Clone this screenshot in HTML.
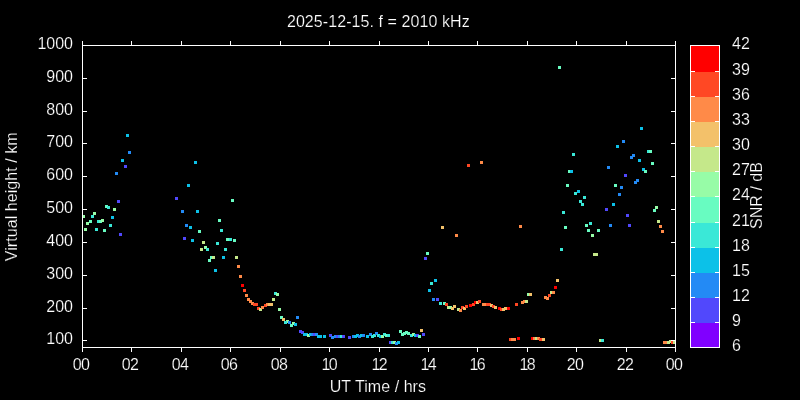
<!DOCTYPE html>
<html><head><meta charset="utf-8"><title>2025-12-15. f = 2010 kHz</title>
<style>html,body{margin:0;padding:0;background:#000;overflow:hidden}svg{display:block}text{font-family:"Liberation Sans",sans-serif;font-size:16px;fill:#fff;stroke:#000;stroke-width:0.2px}</style></head><body>
<svg width="800" height="400" viewBox="0 0 800 400">
<rect width="800" height="400" fill="#000"/>
<g shape-rendering="crispEdges">
<rect x="126" y="134" width="3" height="3" fill="#0cc1e8"/>
<rect x="128" y="151" width="3" height="3" fill="#238af5"/>
<rect x="121" y="159" width="3" height="3" fill="#0cc1e8"/>
<rect x="124" y="165" width="3" height="3" fill="#5148fc"/>
<rect x="115" y="172" width="3" height="3" fill="#238af5"/>
<rect x="175" y="197" width="3" height="3" fill="#5148fc"/>
<rect x="117" y="200" width="3" height="3" fill="#5148fc"/>
<rect x="105" y="205" width="3" height="3" fill="#68fcc1"/>
<rect x="107" y="206" width="3" height="3" fill="#3ae8d7"/>
<rect x="113" y="208" width="3" height="3" fill="#97fca7"/>
<rect x="93" y="212" width="3" height="3" fill="#97fca7"/>
<rect x="82" y="215" width="3" height="3" fill="#97fca7"/>
<rect x="91" y="215" width="3" height="3" fill="#3ae8d7"/>
<rect x="111" y="216" width="3" height="3" fill="#0cc1e8"/>
<rect x="89" y="220" width="3" height="3" fill="#68fcc1"/>
<rect x="97" y="220" width="3" height="3" fill="#3ae8d7"/>
<rect x="99" y="220" width="3" height="3" fill="#68fcc1"/>
<rect x="101" y="219" width="3" height="3" fill="#97fca7"/>
<rect x="86" y="222" width="3" height="3" fill="#97fca7"/>
<rect x="109" y="224" width="3" height="3" fill="#3ae8d7"/>
<rect x="84" y="228" width="3" height="3" fill="#97fca7"/>
<rect x="95" y="228" width="3" height="3" fill="#3ae8d7"/>
<rect x="103" y="229" width="3" height="3" fill="#68fcc1"/>
<rect x="119" y="233" width="3" height="3" fill="#5148fc"/>
<rect x="194" y="161" width="3" height="3" fill="#0cc1e8"/>
<rect x="187" y="184" width="3" height="3" fill="#0cc1e8"/>
<rect x="231" y="199" width="3" height="3" fill="#68fcc1"/>
<rect x="181" y="210" width="3" height="3" fill="#238af5"/>
<rect x="196" y="210" width="3" height="3" fill="#0cc1e8"/>
<rect x="218" y="219" width="3" height="3" fill="#68fcc1"/>
<rect x="185" y="224" width="3" height="3" fill="#238af5"/>
<rect x="189" y="226" width="3" height="3" fill="#0cc1e8"/>
<rect x="198" y="230" width="3" height="3" fill="#68fcc1"/>
<rect x="220" y="229" width="3" height="3" fill="#3ae8d7"/>
<rect x="183" y="237" width="3" height="3" fill="#5148fc"/>
<rect x="191" y="239" width="3" height="3" fill="#0cc1e8"/>
<rect x="202" y="241" width="3" height="3" fill="#c5e88a"/>
<rect x="216" y="242" width="3" height="3" fill="#3ae8d7"/>
<rect x="226" y="238" width="3" height="3" fill="#68fcc1"/>
<rect x="229" y="238" width="3" height="3" fill="#3ae8d7"/>
<rect x="233" y="239" width="3" height="3" fill="#68fcc1"/>
<rect x="204" y="246" width="3" height="3" fill="#97fca7"/>
<rect x="200" y="248" width="3" height="3" fill="#c5e88a"/>
<rect x="206" y="248" width="3" height="3" fill="#3ae8d7"/>
<rect x="224" y="248" width="3" height="3" fill="#3ae8d7"/>
<rect x="210" y="256" width="3" height="3" fill="#68fcc1"/>
<rect x="212" y="256" width="3" height="3" fill="#c5e88a"/>
<rect x="208" y="259" width="3" height="3" fill="#68fcc1"/>
<rect x="222" y="256" width="3" height="3" fill="#0cc1e8"/>
<rect x="235" y="256" width="3" height="3" fill="#c5e88a"/>
<rect x="237" y="265" width="3" height="3" fill="#ff8a48"/>
<rect x="214" y="269" width="3" height="3" fill="#0cc1e8"/>
<rect x="239" y="275" width="3" height="3" fill="#ff8a48"/>
<rect x="241" y="284" width="3" height="3" fill="#ff0000"/>
<rect x="243" y="289" width="3" height="3" fill="#ff4824"/>
<rect x="245" y="294" width="3" height="3" fill="#ff8a48"/>
<rect x="247" y="298" width="3" height="3" fill="#ff8a48"/>
<rect x="249" y="300" width="3" height="3" fill="#ff8a48"/>
<rect x="251" y="302" width="3" height="3" fill="#ff8a48"/>
<rect x="253" y="303" width="3" height="3" fill="#ff4824"/>
<rect x="255" y="303" width="3" height="3" fill="#ff4824"/>
<rect x="257" y="307" width="3" height="3" fill="#ff4824"/>
<rect x="259" y="308" width="3" height="3" fill="#c5e88a"/>
<rect x="261" y="306" width="3" height="3" fill="#ff8a48"/>
<rect x="264" y="304" width="3" height="3" fill="#ff4824"/>
<rect x="266" y="303" width="3" height="3" fill="#ff8a48"/>
<rect x="268" y="303" width="3" height="3" fill="#f3c16a"/>
<rect x="270" y="303" width="3" height="3" fill="#f3c16a"/>
<rect x="272" y="298" width="3" height="3" fill="#c5e88a"/>
<rect x="274" y="292" width="3" height="3" fill="#3ae8d7"/>
<rect x="276" y="293" width="3" height="3" fill="#97fca7"/>
<rect x="278" y="308" width="3" height="3" fill="#97fca7"/>
<rect x="280" y="316" width="3" height="3" fill="#68fcc1"/>
<rect x="282" y="318" width="3" height="3" fill="#f3c16a"/>
<rect x="286" y="320" width="3" height="3" fill="#97fca7"/>
<rect x="284" y="321" width="3" height="3" fill="#3ae8d7"/>
<rect x="288" y="321" width="3" height="3" fill="#238af5"/>
<rect x="292" y="322" width="3" height="3" fill="#97fca7"/>
<rect x="290" y="324" width="3" height="3" fill="#68fcc1"/>
<rect x="294" y="323" width="3" height="3" fill="#0cc1e8"/>
<rect x="296" y="316" width="3" height="3" fill="#238af5"/>
<rect x="299" y="330" width="3" height="3" fill="#5148fc"/>
<rect x="301" y="331" width="3" height="3" fill="#5148fc"/>
<rect x="303" y="333" width="3" height="3" fill="#0cc1e8"/>
<rect x="305" y="333" width="3" height="3" fill="#0cc1e8"/>
<rect x="307" y="334" width="3" height="3" fill="#97fca7"/>
<rect x="309" y="333" width="3" height="3" fill="#0cc1e8"/>
<rect x="311" y="333" width="3" height="3" fill="#238af5"/>
<rect x="313" y="333" width="3" height="3" fill="#5148fc"/>
<rect x="315" y="333" width="3" height="3" fill="#238af5"/>
<rect x="317" y="335" width="3" height="3" fill="#0cc1e8"/>
<rect x="319" y="335" width="3" height="3" fill="#0cc1e8"/>
<rect x="323" y="335" width="3" height="3" fill="#0cc1e8"/>
<rect x="329" y="334" width="3" height="3" fill="#5148fc"/>
<rect x="331" y="336" width="3" height="3" fill="#238af5"/>
<rect x="334" y="335" width="3" height="3" fill="#238af5"/>
<rect x="336" y="335" width="3" height="3" fill="#5148fc"/>
<rect x="338" y="335" width="3" height="3" fill="#238af5"/>
<rect x="340" y="335" width="3" height="3" fill="#3ae8d7"/>
<rect x="342" y="335" width="3" height="3" fill="#5148fc"/>
<rect x="348" y="336" width="3" height="3" fill="#5148fc"/>
<rect x="352" y="335" width="3" height="3" fill="#238af5"/>
<rect x="354" y="335" width="3" height="3" fill="#0cc1e8"/>
<rect x="356" y="334" width="3" height="3" fill="#0cc1e8"/>
<rect x="358" y="335" width="3" height="3" fill="#238af5"/>
<rect x="360" y="334" width="3" height="3" fill="#0cc1e8"/>
<rect x="362" y="334" width="3" height="3" fill="#238af5"/>
<rect x="366" y="335" width="3" height="3" fill="#0cc1e8"/>
<rect x="369" y="333" width="3" height="3" fill="#238af5"/>
<rect x="371" y="335" width="3" height="3" fill="#3ae8d7"/>
<rect x="373" y="334" width="3" height="3" fill="#3ae8d7"/>
<rect x="375" y="332" width="3" height="3" fill="#238af5"/>
<rect x="377" y="334" width="3" height="3" fill="#3ae8d7"/>
<rect x="379" y="335" width="3" height="3" fill="#0cc1e8"/>
<rect x="381" y="335" width="3" height="3" fill="#97fca7"/>
<rect x="383" y="333" width="3" height="3" fill="#3ae8d7"/>
<rect x="385" y="334" width="3" height="3" fill="#68fcc1"/>
<rect x="387" y="334" width="3" height="3" fill="#3ae8d7"/>
<rect x="389" y="341" width="3" height="3" fill="#5148fc"/>
<rect x="391" y="341" width="3" height="3" fill="#3ae8d7"/>
<rect x="393" y="341" width="3" height="3" fill="#97fca7"/>
<rect x="395" y="342" width="3" height="3" fill="#238af5"/>
<rect x="397" y="341" width="3" height="3" fill="#0cc1e8"/>
<rect x="399" y="330" width="3" height="3" fill="#68fcc1"/>
<rect x="401" y="333" width="3" height="3" fill="#68fcc1"/>
<rect x="403" y="332" width="3" height="3" fill="#68fcc1"/>
<rect x="405" y="331" width="3" height="3" fill="#68fcc1"/>
<rect x="407" y="332" width="3" height="3" fill="#68fcc1"/>
<rect x="410" y="334" width="3" height="3" fill="#3ae8d7"/>
<rect x="412" y="333" width="3" height="3" fill="#97fca7"/>
<rect x="414" y="334" width="3" height="3" fill="#0cc1e8"/>
<rect x="416" y="334" width="3" height="3" fill="#5148fc"/>
<rect x="418" y="335" width="3" height="3" fill="#68fcc1"/>
<rect x="420" y="329" width="3" height="3" fill="#f3c16a"/>
<rect x="422" y="333" width="3" height="3" fill="#5148fc"/>
<rect x="426" y="252" width="3" height="3" fill="#68fcc1"/>
<rect x="424" y="257" width="3" height="3" fill="#5148fc"/>
<rect x="434" y="279" width="3" height="3" fill="#0cc1e8"/>
<rect x="430" y="282" width="3" height="3" fill="#3ae8d7"/>
<rect x="428" y="289" width="3" height="3" fill="#0cc1e8"/>
<rect x="432" y="298" width="3" height="3" fill="#238af5"/>
<rect x="436" y="298" width="3" height="3" fill="#5148fc"/>
<rect x="439" y="302" width="3" height="3" fill="#3ae8d7"/>
<rect x="443" y="302" width="3" height="3" fill="#68fcc1"/>
<rect x="445" y="303" width="3" height="3" fill="#ff4824"/>
<rect x="447" y="306" width="3" height="3" fill="#c5e88a"/>
<rect x="449" y="306" width="3" height="3" fill="#97fca7"/>
<rect x="451" y="307" width="3" height="3" fill="#f3c16a"/>
<rect x="453" y="305" width="3" height="3" fill="#f3c16a"/>
<rect x="457" y="308" width="3" height="3" fill="#c5e88a"/>
<rect x="459" y="309" width="3" height="3" fill="#ff8a48"/>
<rect x="461" y="306" width="3" height="3" fill="#ff4824"/>
<rect x="463" y="307" width="3" height="3" fill="#f3c16a"/>
<rect x="465" y="305" width="3" height="3" fill="#ff4824"/>
<rect x="469" y="304" width="3" height="3" fill="#ff0000"/>
<rect x="472" y="303" width="3" height="3" fill="#ff4824"/>
<rect x="474" y="301" width="3" height="3" fill="#ff0000"/>
<rect x="476" y="301" width="3" height="3" fill="#f3c16a"/>
<rect x="478" y="300" width="3" height="3" fill="#ff4824"/>
<rect x="482" y="303" width="3" height="3" fill="#ff8a48"/>
<rect x="484" y="303" width="3" height="3" fill="#ff8a48"/>
<rect x="486" y="303" width="3" height="3" fill="#ff4824"/>
<rect x="488" y="303" width="3" height="3" fill="#ff4824"/>
<rect x="490" y="304" width="3" height="3" fill="#f3c16a"/>
<rect x="492" y="305" width="3" height="3" fill="#ff4824"/>
<rect x="494" y="306" width="3" height="3" fill="#f3c16a"/>
<rect x="498" y="307" width="3" height="3" fill="#ff0000"/>
<rect x="500" y="308" width="3" height="3" fill="#ff4824"/>
<rect x="502" y="308" width="3" height="3" fill="#f3c16a"/>
<rect x="504" y="307" width="3" height="3" fill="#f3c16a"/>
<rect x="507" y="307" width="3" height="3" fill="#ff0000"/>
<rect x="515" y="303" width="3" height="3" fill="#ff4824"/>
<rect x="521" y="301" width="3" height="3" fill="#ff8a48"/>
<rect x="523" y="300" width="3" height="3" fill="#ff8a48"/>
<rect x="525" y="300" width="3" height="3" fill="#c5e88a"/>
<rect x="527" y="293" width="3" height="3" fill="#97fca7"/>
<rect x="529" y="293" width="3" height="3" fill="#f3c16a"/>
<rect x="544" y="296" width="3" height="3" fill="#ff8a48"/>
<rect x="546" y="297" width="3" height="3" fill="#ff8a48"/>
<rect x="548" y="294" width="3" height="3" fill="#ff4824"/>
<rect x="550" y="291" width="3" height="3" fill="#c5e88a"/>
<rect x="552" y="291" width="3" height="3" fill="#ff8a48"/>
<rect x="554" y="286" width="3" height="3" fill="#ff0000"/>
<rect x="556" y="279" width="3" height="3" fill="#f3c16a"/>
<rect x="509" y="338" width="3" height="3" fill="#ff4824"/>
<rect x="511" y="338" width="3" height="3" fill="#ff8a48"/>
<rect x="513" y="338" width="3" height="3" fill="#ff8a48"/>
<rect x="517" y="337" width="3" height="3" fill="#ff0000"/>
<rect x="531" y="337" width="3" height="3" fill="#ff0000"/>
<rect x="533" y="337" width="3" height="3" fill="#ff8a48"/>
<rect x="535" y="337" width="3" height="3" fill="#c5e88a"/>
<rect x="537" y="337" width="3" height="3" fill="#ff8a48"/>
<rect x="539" y="338" width="3" height="3" fill="#ff4824"/>
<rect x="542" y="338" width="3" height="3" fill="#f3c16a"/>
<rect x="467" y="164" width="3" height="3" fill="#ff4824"/>
<rect x="480" y="161" width="3" height="3" fill="#ff8a48"/>
<rect x="441" y="226" width="3" height="3" fill="#f3c16a"/>
<rect x="455" y="234" width="3" height="3" fill="#ff8a48"/>
<rect x="519" y="225" width="3" height="3" fill="#ff8a48"/>
<rect x="558" y="66" width="3" height="3" fill="#68fcc1"/>
<rect x="640" y="127" width="3" height="3" fill="#0cc1e8"/>
<rect x="622" y="140" width="3" height="3" fill="#238af5"/>
<rect x="616" y="145" width="3" height="3" fill="#0cc1e8"/>
<rect x="647" y="150" width="3" height="3" fill="#3ae8d7"/>
<rect x="649" y="150" width="3" height="3" fill="#68fcc1"/>
<rect x="632" y="154" width="3" height="3" fill="#238af5"/>
<rect x="630" y="156" width="3" height="3" fill="#238af5"/>
<rect x="638" y="159" width="3" height="3" fill="#0cc1e8"/>
<rect x="572" y="153" width="3" height="3" fill="#3ae8d7"/>
<rect x="607" y="166" width="3" height="3" fill="#238af5"/>
<rect x="568" y="170" width="3" height="3" fill="#68fcc1"/>
<rect x="570" y="170" width="3" height="3" fill="#0cc1e8"/>
<rect x="624" y="174" width="3" height="3" fill="#5148fc"/>
<rect x="636" y="179" width="3" height="3" fill="#238af5"/>
<rect x="634" y="181" width="3" height="3" fill="#238af5"/>
<rect x="566" y="184" width="3" height="3" fill="#68fcc1"/>
<rect x="614" y="184" width="3" height="3" fill="#68fcc1"/>
<rect x="620" y="186" width="3" height="3" fill="#238af5"/>
<rect x="577" y="190" width="3" height="3" fill="#0cc1e8"/>
<rect x="574" y="192" width="3" height="3" fill="#3ae8d7"/>
<rect x="618" y="193" width="3" height="3" fill="#238af5"/>
<rect x="651" y="162" width="3" height="3" fill="#68fcc1"/>
<rect x="642" y="168" width="3" height="3" fill="#0cc1e8"/>
<rect x="644" y="170" width="3" height="3" fill="#68fcc1"/>
<rect x="583" y="196" width="3" height="3" fill="#3ae8d7"/>
<rect x="579" y="200" width="3" height="3" fill="#3ae8d7"/>
<rect x="581" y="203" width="3" height="3" fill="#3ae8d7"/>
<rect x="612" y="203" width="3" height="3" fill="#0cc1e8"/>
<rect x="605" y="208" width="3" height="3" fill="#5148fc"/>
<rect x="562" y="211" width="3" height="3" fill="#3ae8d7"/>
<rect x="626" y="214" width="3" height="3" fill="#5148fc"/>
<rect x="589" y="222" width="3" height="3" fill="#3ae8d7"/>
<rect x="585" y="224" width="3" height="3" fill="#68fcc1"/>
<rect x="609" y="224" width="3" height="3" fill="#238af5"/>
<rect x="628" y="224" width="3" height="3" fill="#5148fc"/>
<rect x="564" y="226" width="3" height="3" fill="#68fcc1"/>
<rect x="587" y="229" width="3" height="3" fill="#68fcc1"/>
<rect x="597" y="229" width="3" height="3" fill="#68fcc1"/>
<rect x="591" y="234" width="3" height="3" fill="#97fca7"/>
<rect x="655" y="206" width="3" height="3" fill="#97fca7"/>
<rect x="653" y="209" width="3" height="3" fill="#68fcc1"/>
<rect x="657" y="220" width="3" height="3" fill="#c5e88a"/>
<rect x="659" y="225" width="3" height="3" fill="#ff8a48"/>
<rect x="661" y="230" width="3" height="3" fill="#ff8a48"/>
<rect x="560" y="248" width="3" height="3" fill="#3ae8d7"/>
<rect x="593" y="253" width="3" height="3" fill="#c5e88a"/>
<rect x="595" y="253" width="3" height="3" fill="#c5e88a"/>
<rect x="599" y="339" width="3" height="3" fill="#c5e88a"/>
<rect x="601" y="339" width="3" height="3" fill="#3ae8d7"/>
<rect x="663" y="341" width="3" height="3" fill="#ff8a48"/>
<rect x="665" y="341" width="3" height="3" fill="#ff8a48"/>
<rect x="667" y="341" width="3" height="3" fill="#c5e88a"/>
<rect x="669" y="340" width="3" height="3" fill="#c5e88a"/>
<rect x="671" y="341" width="3" height="3" fill="#ff4824"/>
<rect x="673" y="341" width="3" height="3" fill="#c5e88a"/>
</g>
<g stroke="#fff" stroke-width="1" fill="none" shape-rendering="crispEdges">
<path d="M82.5 41 V352 M675.5 41 V352 M82 45.5 H676 M82 347.5 H676"/>
<path d="M82.5 45 v-4 M82.5 348 v4 M131.5 45 v-4 M131.5 348 v4 M181.5 45 v-4 M181.5 348 v4 M230.5 45 v-4 M230.5 348 v4 M280.5 45 v-4 M280.5 348 v4 M329.5 45 v-4 M329.5 348 v4 M379.5 45 v-4 M379.5 348 v4 M428.5 45 v-4 M428.5 348 v4 M477.5 45 v-4 M477.5 348 v4 M527.5 45 v-4 M527.5 348 v4 M576.5 45 v-4 M576.5 348 v4 M626.5 45 v-4 M626.5 348 v4 M675.5 45 v-4 M675.5 348 v4 M83 340.5 h4 M675 340.5 h-4 M83 308.5 h4 M675 308.5 h-4 M83 275.5 h4 M675 275.5 h-4 M83 242.5 h4 M675 242.5 h-4 M83 209.5 h4 M675 209.5 h-4 M83 176.5 h4 M675 176.5 h-4 M83 143.5 h4 M675 143.5 h-4 M83 111.5 h4 M675 111.5 h-4 M83 78.5 h4 M675 78.5 h-4 M83 45.5 h4 M675 45.5 h-4 "/>
</g>
<g shape-rendering="crispEdges">
<rect x="690.5" y="322.5" width="29" height="25" fill="#8000ff"/>
<rect x="690.5" y="297.5" width="29" height="25" fill="#5148fc"/>
<rect x="690.5" y="272.5" width="29" height="25" fill="#238af5"/>
<rect x="690.5" y="247.5" width="29" height="25" fill="#0cc1e8"/>
<rect x="690.5" y="222.5" width="29" height="25" fill="#3ae8d7"/>
<rect x="690.5" y="196.5" width="29" height="26" fill="#68fcc1"/>
<rect x="690.5" y="171.5" width="29" height="25" fill="#97fca7"/>
<rect x="690.5" y="146.5" width="29" height="25" fill="#c5e88a"/>
<rect x="690.5" y="121.5" width="29" height="25" fill="#f3c16a"/>
<rect x="690.5" y="96.5" width="29" height="25" fill="#ff8a48"/>
<rect x="690.5" y="71.5" width="29" height="25" fill="#ff4824"/>
<rect x="690.5" y="45.5" width="29" height="26" fill="#ff0000"/>
<rect x="690.5" y="45.5" width="29" height="302" fill="none" stroke="#fff"/>
<path d="M691 322.5 h4 M719 322.5 h-4 M691 297.5 h4 M719 297.5 h-4 M691 272.5 h4 M719 272.5 h-4 M691 247.5 h4 M719 247.5 h-4 M691 222.5 h4 M719 222.5 h-4 M691 196.5 h4 M719 196.5 h-4 M691 171.5 h4 M719 171.5 h-4 M691 146.5 h4 M719 146.5 h-4 M691 121.5 h4 M719 121.5 h-4 M691 96.5 h4 M719 96.5 h-4 M691 71.5 h4 M719 71.5 h-4 " stroke="#fff" fill="none"/>
</g>
<text x="378.3" y="27" text-anchor="middle" textLength="182.8">2025-12-15. f = 2010 kHz</text>
<text x="377.8" y="392" text-anchor="middle" textLength="96.3">UT Time / hrs</text>
<text transform="translate(17.4 196.8) rotate(-90)" text-anchor="middle" textLength="128.9">Virtual height / km</text>
<text transform="translate(762 195.5) rotate(-90)" text-anchor="middle" textLength="66.9">SNR / dB</text>
<g text-anchor="end">
<text x="73" y="344.435">100</text>
<text x="73" y="311.609">200</text>
<text x="73" y="278.783">300</text>
<text x="73" y="245.957">400</text>
<text x="73" y="213.13">500</text>
<text x="73" y="180.304">600</text>
<text x="73" y="147.478">700</text>
<text x="73" y="114.652">800</text>
<text x="73" y="81.8261">900</text>
<text x="73" y="49">1000</text>
</g><g>
<text x="72.8 80.9" y="370">00</text>
<text x="121.8 129.9" y="370">02</text>
<text x="171.8 179.9" y="370">04</text>
<text x="220.8 228.9" y="370">06</text>
<text x="270.8 278.9" y="370">08</text>
<text x="321.4 328.8" y="370">10</text>
<text x="371.4 378.8" y="370">12</text>
<text x="420.4 427.8" y="370">14</text>
<text x="469.4 476.8" y="370">16</text>
<text x="519.4 526.8" y="370">18</text>
<text x="566.8 574.9" y="370">20</text>
<text x="616.8 624.9" y="370">22</text>
<text x="665.8 673.9" y="370">00</text>
</g><g>
<text x="732" y="351">6</text>
<text x="732" y="326">9</text>
<text x="732" y="301">12</text>
<text x="732" y="276">15</text>
<text x="732" y="251">18</text>
<text x="732" y="226">21</text>
<text x="732" y="200">24</text>
<text x="732" y="175">27</text>
<text x="732" y="150">30</text>
<text x="732" y="125">33</text>
<text x="732" y="100">36</text>
<text x="732" y="75">39</text>
<text x="732" y="49">42</text>
</g>
</svg></body></html>
